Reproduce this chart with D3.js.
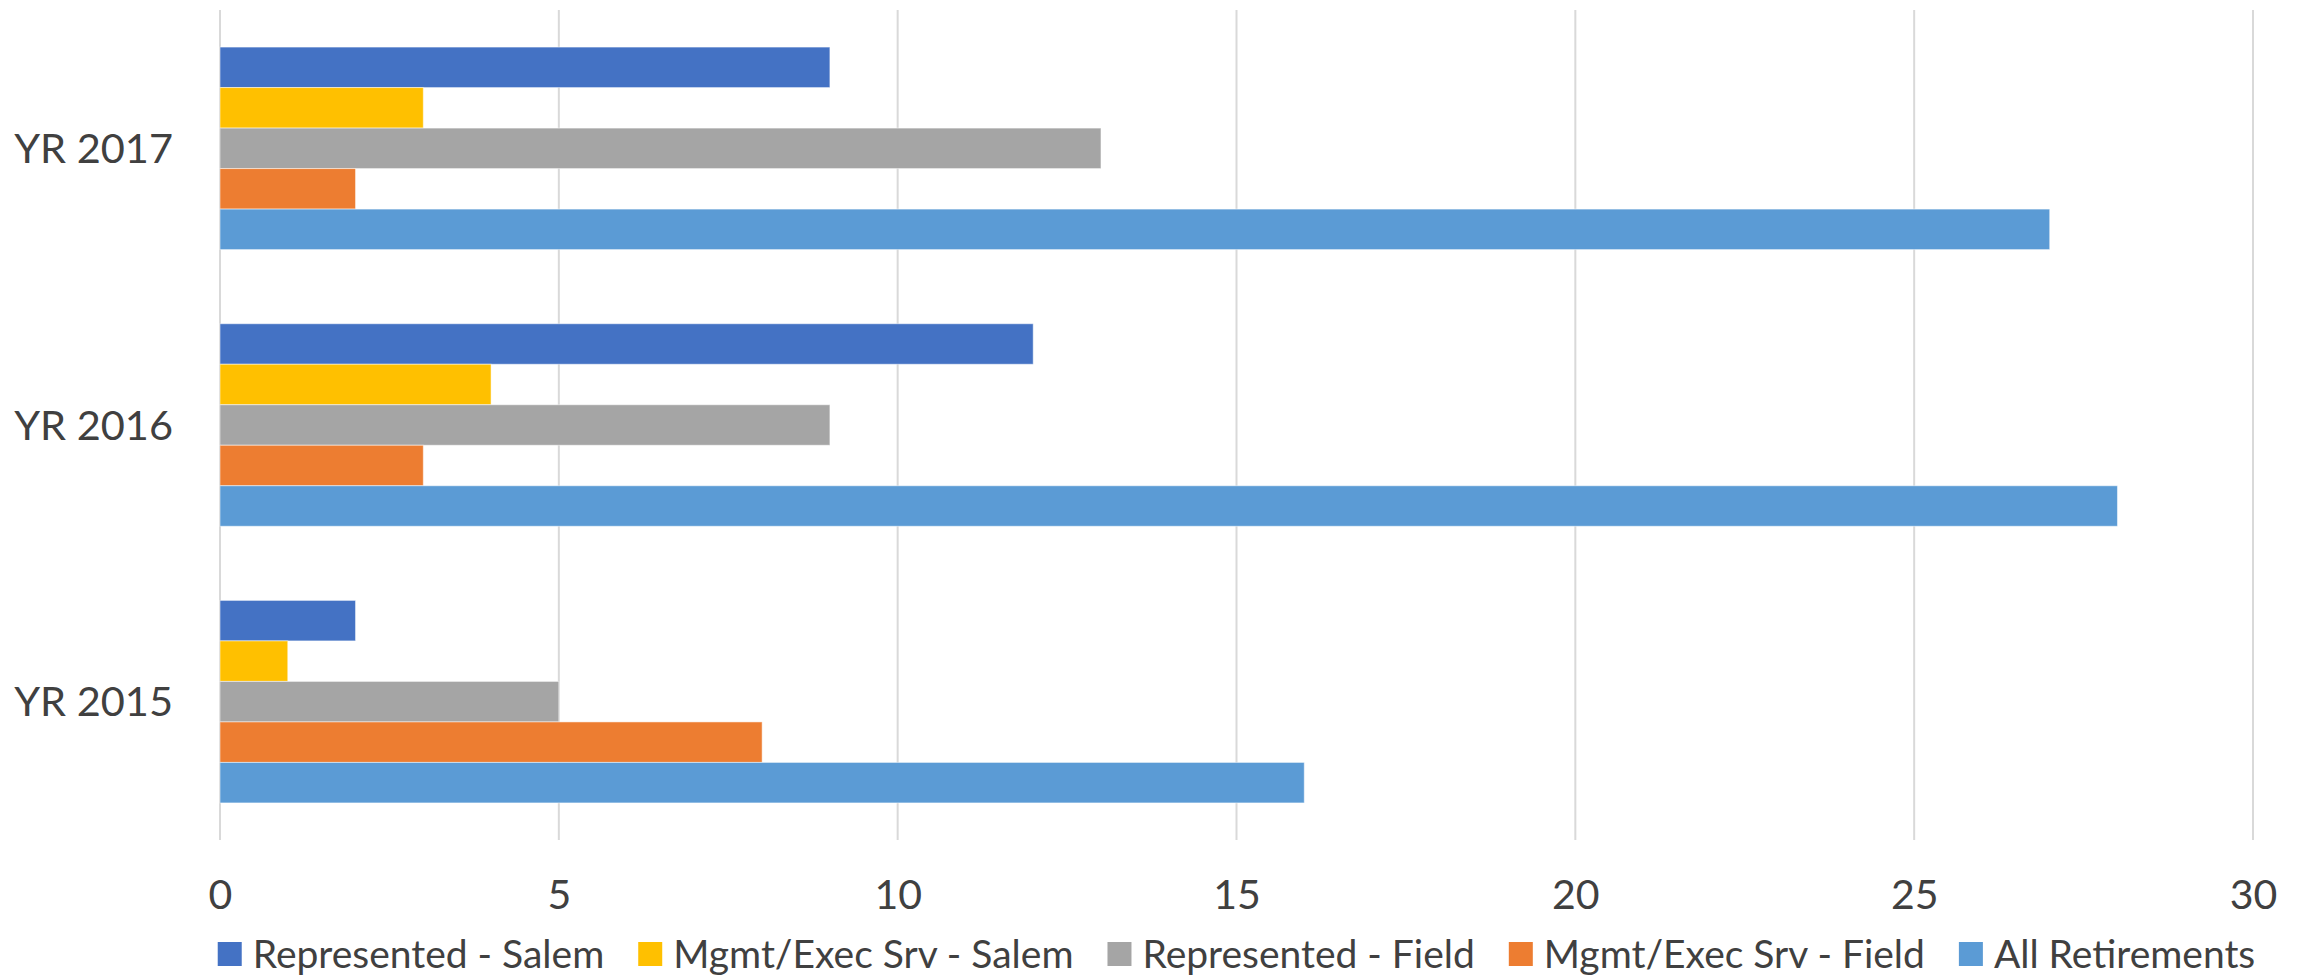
<!DOCTYPE html>
<html>
<head>
<meta charset="utf-8">
<script src="https://cdn.jsdelivr.net/npm/d3@7"></script>
<style>
  html, body { margin: 0; padding: 0; background: #ffffff; }
  svg { display: block; }
  text { font-family: Lato, "Open Sans", sans-serif; fill: #404040; }
</style>
</head>
<body>
<svg id="chart" width="2303" height="975"></svg>
<script>
// ---- data ----
const categories = ["YR 2017", "YR 2016", "YR 2015"];
const seriesNames = ["Represented - Salem", "Mgmt/Exec Srv - Salem", "Represented - Field", "Mgmt/Exec Srv - Field", "All Retirements"];
const seriesColors = ["#4472C4", "#FFC000", "#A5A5A5", "#ED7D31", "#5B9BD5"];
const representedSalem = [9, 12, 2];
const mgmtExecSalem = [3, 4, 1];
const representedField = [13, 9, 5];
const mgmtExecField = [2, 3, 8];
const allRetirements = [27, 28, 16];
const xTicks = [0, 5, 10, 15, 20, 25, 30];

const seriesValues = [representedSalem, mgmtExecSalem, representedField, mgmtExecField, allRetirements];

// ---- layout ----
const svg = d3.select("#chart");
const plot = { left: 220, right: 2253, top: 10, bottom: 840 };

const x = d3.scaleLinear().domain([0, 30]).range([plot.left, plot.right]);
const y = d3.scaleBand().domain(categories).range([plot.top, plot.bottom])
  .paddingInner(0.268).paddingOuter(0.134);
const ySub = d3.scaleBand().domain(seriesNames).range([0, y.bandwidth()]);

// gridlines
svg.append("g").selectAll("line").data(xTicks).join("line")
  .attr("x1", d => x(d)).attr("x2", d => x(d))
  .attr("y1", plot.top).attr("y2", plot.bottom)
  .attr("stroke", "#D9D9D9").attr("stroke-width", 2);

// bars
const rows = [];
categories.forEach((c, i) => {
  seriesNames.forEach((s, j) => rows.push({ cat: c, series: s, value: seriesValues[j][i], color: seriesColors[j] }));
});
svg.append("g").selectAll("rect").data(rows).join("rect")
  .attr("x", x(0))
  .attr("y", d => y(d.cat) + ySub(d.series))
  .attr("width", d => x(d.value) - x(0))
  .attr("height", ySub.bandwidth())
  .attr("fill", d => d.color)
  .attr("stroke", "#ffffff").attr("stroke-opacity", 0.5).attr("stroke-width", 1);

// x axis tick labels
const xAxis = d3.axisBottom(x).tickValues(xTicks).tickSize(0).tickPadding(0);
const gx = svg.append("g").attr("transform", `translate(0, ${plot.bottom})`).call(xAxis);
gx.select(".domain").remove();
gx.selectAll("text")
  .attr("y", 55).attr("dy", "0.35em")
  .style("font-size", "41px").style("font-family", "Lato, 'Open Sans', sans-serif").attr("fill", "#404040");

// category labels
const yAxis = d3.axisLeft(y).tickSize(0).tickPadding(0);
const gy = svg.append("g").attr("transform", `translate(${plot.left}, 0)`).call(yAxis);
gy.select(".domain").remove();
gy.selectAll("text")
  .attr("x", -47).attr("dy", "0.35em")
  .style("font-size", "41.5px").style("font-family", "Lato, 'Open Sans', sans-serif").attr("fill", "#404040");

// legend
const legend = svg.append("g");
const items = legend.selectAll("g").data(seriesNames).join("g");
items.append("rect").attr("width", 24).attr("height", 24).attr("y", -12)
  .attr("fill", (d, i) => seriesColors[i]);
items.append("text").attr("x", 35).attr("dy", "0.35em")
  .style("font-size", "39px").text(d => d);
const widths = [];
items.each(function () {
  const w = 35 + d3.select(this).select("text").node().getComputedTextLength();
  widths.push(w);
});
const gap = 34;
const total = d3.sum(widths) + gap * (widths.length - 1);
let start = (plot.left + plot.right) / 2 - total / 2;
items.attr("transform", (d, i) => {
  const tx = start;
  start += widths[i] + gap;
  return `translate(${tx}, 954)`;
});
</script>
</body>
</html>
